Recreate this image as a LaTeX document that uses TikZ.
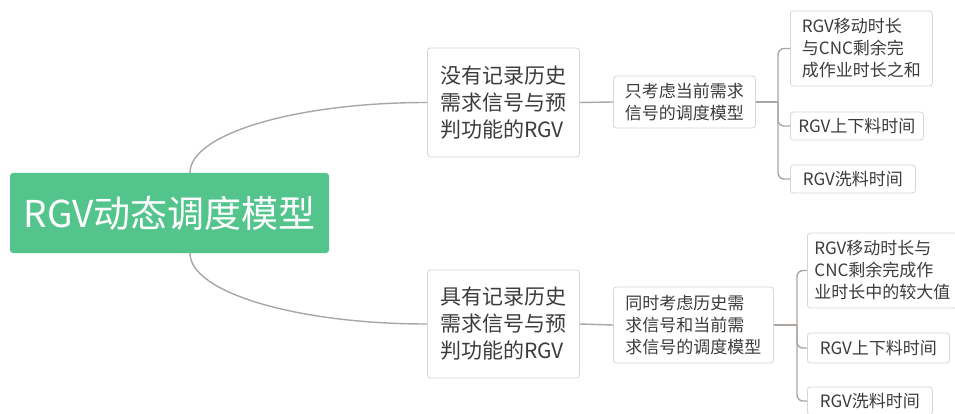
\documentclass[tikz,border=0pt]{standalone}
\usepackage{fontspec}
\setmainfont{Noto Sans CJK SC}
\usetikzlibrary{positioning}
\definecolor{rootgreen}{HTML}{52C48C}
\definecolor{linkgray}{HTML}{ABA6A2}
\definecolor{boxgray}{HTML}{D6D6D6}
\definecolor{textgray}{HTML}{3C3C3C}
\tikzset{
  topic/.style={rectangle,draw=boxgray,line width=0.8pt,rounded corners=3pt,fill=white,
    text=textgray,align=left,anchor=west,inner sep=0pt},
  link/.style={draw=linkgray,line width=1.4pt},
}
\begin{document}
\begin{tikzpicture}[x=1pt,y=-1pt]
\useasboundingbox (0,0) rectangle (955,414);
\clip (0,0) rectangle (955,414);
\fill[white] (0,0) rectangle (955,414);

\node[rectangle,fill=rootgreen,rounded corners=3pt,text=white,minimum width=319pt,minimum height=80pt,
  inner sep=0pt,font=\fontsize{37}{42}\selectfont] (root) at (169.5,213) {RGV动态调度模型};

% upper branch
\node[topic,minimum width=152pt,minimum height=109pt,font=\fontsize{21}{27}\selectfont] (b1) at (427,102.5)
  {没有记录历史\\需求信号与预\\判功能的RGV};
\node[topic,minimum width=142pt,minimum height=52pt,font=\fontsize{17}{22}\selectfont] (b2) at (613,102)
  {只考虑当前需求\\信号的调度模型};
\node[topic,minimum width=142pt,minimum height=75pt,font=\fontsize{17}{22}\selectfont] (c1) at (790,48.5)
  {RGV移动时长\\与CNC剩余完\\成作业时长之和};
\node[topic,minimum width=133pt,minimum height=28pt,font=\fontsize{17}{22}\selectfont] (c2) at (790,126)
  {RGV上下料时间};
\node[topic,minimum width=125pt,minimum height=28pt,font=\fontsize{17}{22}\selectfont] (c3) at (790,179)
  {RGV洗料时间};

% lower branch
\node[topic,minimum width=152pt,minimum height=108pt,font=\fontsize{21}{27}\selectfont] (d1) at (427,324)
  {具有记录历史\\需求信号与预\\判功能的RGV};
\node[topic,minimum width=160pt,minimum height=76pt,font=\fontsize{17}{22}\selectfont] (d2) at (613,325)
  {同时考虑历史需\\求信号和当前需\\求信号的调度模型};
\node[topic,minimum width=150pt,minimum height=75pt,font=\fontsize{17}{22}\selectfont] (e1) at (807,270.5)
  {RGV移动时长与\\CNC剩余完成作\\业时长中的较大值};
\node[topic,minimum width=142pt,minimum height=30pt,font=\fontsize{17}{22}\selectfont] (e2) at (807,348)
  {RGV上下料时间};
\node[topic,minimum width=125pt,minimum height=28pt,font=\fontsize{17}{22}\selectfont] (e3) at (807,401)
  {RGV洗料时间};

\coordinate (j1) at (778,102);
\coordinate (j2) at (797,325);

\draw[link] ([xshift=20.5pt]root.north) .. controls +(0,-39) and +(-131,0) .. (b1.west);
\draw[link] ([xshift=20.5pt]root.south) .. controls +(0,39) and +(-131,0) .. (d1.west);
\draw[link] (b1.east) -- (b2.west);
\draw[link] (b2.east) -- (j1);
\draw[link,rounded corners=6pt] (c1.west) -| (j1) |- (c3.west);
\draw[link,rounded corners=6pt] (j1) |- (c2.west);
\draw[link] (d1.east) -- (d2.west);
\draw[link] (d2.east) -- (j2);
\draw[link,rounded corners=6pt] (e1.west) -| (j2) |- (e3.west);
\draw[link,rounded corners=6pt] (j2) |- (e2.west);

\end{tikzpicture}
\end{document}
